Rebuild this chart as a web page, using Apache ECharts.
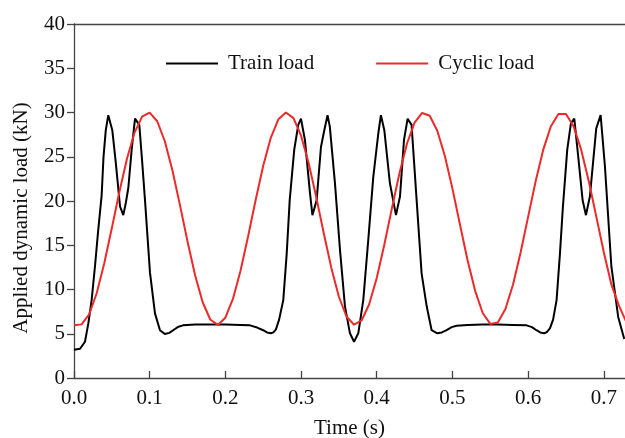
<!DOCTYPE html>
<html>
<head>
	<meta charset="utf-8">
	<title>Applied dynamic load</title>
	<style>
		body { margin: 0; background: #fff; }
		#chart { width: 625px; height: 438px; }
	</style>
</head>
<body>
	<div id="chart"></div>
<script src="https://cdn.jsdelivr.net/npm/echarts@6/dist/echarts.min.js"></script>
<script>
	// train load at the turning points
	var trainTime = [0, 0.008, 0.0145, 0.019, 0.0233, 0.0277, 0.032, 0.0365, 0.039, 0.042, 0.0453, 0.0506, 0.055, 0.0608, 0.0651, 0.0685, 0.0718, 0.0762, 0.0806, 0.0863, 0.090, 0.0938, 0.1004, 0.107, 0.1136, 0.120, 0.126, 0.131, 0.138, 0.144,
		0.16, 0.18, 0.20, 0.22, 0.2325, 0.242, 0.25, 0.255, 0.260, 0.2635, 0.2668, 0.271, 0.2765, 0.281, 0.285, 0.291, 0.2963, 0.2999, 0.3051, 0.3118, 0.315, 0.3206, 0.3263, 0.3307, 0.335, 0.338, 0.3448, 0.3514, 0.358, 0.3646,
		0.370, 0.3756, 0.3822, 0.3888, 0.3954, 0.402, 0.4055, 0.410, 0.4174, 0.4254, 0.4307, 0.436, 0.4408, 0.446, 0.4527, 0.4593, 0.466, 0.4725, 0.480, 0.486, 0.4923, 0.499, 0.5055, 0.52, 0.54, 0.56, 0.58, 0.598, 0.605, 0.611,
		0.616, 0.621, 0.625, 0.6288, 0.633, 0.6376, 0.642, 0.646, 0.6517, 0.6566, 0.661, 0.6662, 0.672, 0.6764, 0.6816, 0.690, 0.6958, 0.7015, 0.710, 0.719, 0.727];
	var trainLoad = [3.2, 3.3, 4.1, 6.2, 8.8, 12.6, 16.7, 20.6, 25.0, 28.0, 29.7, 28.0, 24.5, 19.4, 18.4, 19.8, 21.5, 25.8, 29.3, 28.6, 24.5, 20.1, 11.9, 7.3, 5.4, 4.97, 5.1, 5.4, 5.8, 5.95,
		6.05, 6.05, 6.05, 6.0, 5.95, 5.7, 5.4, 5.15, 5.05, 5.15, 5.5, 6.6, 8.8, 14.0, 20.1, 25.8, 28.6, 29.3, 26.9, 20.9, 18.4, 20.1, 26.1, 28.0, 29.7, 28.4, 22.0, 14.5, 8.1, 5.05,
		4.1, 5.05, 8.8, 15.6, 22.7, 27.6, 29.7, 28.0, 22.0, 18.4, 20.5, 26.9, 29.3, 28.6, 20.1, 11.8, 8.1, 5.4, 5.05, 5.15, 5.4, 5.75, 5.9, 6.0, 6.05, 6.05, 6.0, 5.95, 5.75, 5.4,
		5.15, 5.05, 5.2, 5.6, 6.6, 8.8, 14.0, 19.4, 25.8, 28.8, 29.3, 25.0, 20.1, 18.4, 20.5, 28.2, 29.7, 23.9, 12.6, 6.9, 4.4];

	// cyclic load, every 0.01 s
	var cyclicTime = [0, 0.01, 0.02, 0.03, 0.04, 0.05, 0.06, 0.07, 0.08, 0.09, 0.10, 0.11, 0.12, 0.13, 0.14, 0.15, 0.16, 0.17, 0.18, 0.19,
		0.20, 0.21, 0.22, 0.23, 0.24, 0.25, 0.26, 0.27, 0.28, 0.29, 0.30, 0.31, 0.32, 0.33, 0.34, 0.35, 0.36, 0.37, 0.38, 0.39,
		0.40, 0.41, 0.42, 0.43, 0.44, 0.45, 0.46, 0.47, 0.48, 0.49, 0.50, 0.51, 0.52, 0.53, 0.54, 0.55, 0.56, 0.57, 0.58, 0.59,
		0.60, 0.61, 0.62, 0.63, 0.64, 0.65, 0.66, 0.67, 0.68, 0.69, 0.70, 0.71, 0.72, 0.73];
	var cyclicLoad = [5.95, 6.06, 7.18, 9.58, 12.96, 16.94, 21.04, 24.78, 27.73, 29.53, 29.98, 29.01, 26.75, 23.47, 19.53, 15.42, 11.62, 8.56, 6.61, 6.0,
		6.81, 8.93, 12.11, 15.99, 20.11, 23.98, 27.14, 29.23, 30.0, 29.36, 27.38, 24.30, 20.47, 16.36, 12.44, 9.18, 6.95, 6.02, 6.50, 8.33,
		11.31, 15.06, 19.17, 23.13, 26.50, 28.86, 29.95, 29.63, 27.94, 25.09, 21.40, 17.31, 13.30, 9.85, 7.35, 6.11, 6.26, 7.80, 10.53, 14.15,
		18.21, 22.26, 25.80, 28.42, 29.82, 29.83, 28.44, 25.83, 22.30, 18.26, 14.20, 10.57, 8.18, 6.27];

	var seriesNames = ['Train load', 'Cyclic load'];

	function pairs(xs, ys) {
		var out = [];
		for (var i = 0; i < xs.length; i++) out.push([xs[i], ys[i]]);
		return out;
	}

	var font = '"Liberation Serif", "Times New Roman", serif';
	var axisColor = '#444';
	var textColor = '#111';

	var myChart = echarts.init(document.getElementById('chart'));
	var option = {
		animation: false,
		backgroundColor: '#fff',
		grid: { left: 74, right: 0, top: 24, bottom: 60, outerBoundsMode: 'none' },
		legend: {
			data: seriesNames,
			left: 166,
			top: 53,
			padding: 0,
			icon: 'rect',
			itemWidth: 52,
			itemHeight: 2,
			itemGap: 62,
			textStyle: { fontFamily: font, fontSize: 21, color: textColor, padding: [0, 0, 0, 5] }
		},
		xAxis: [
			{
				type: 'value',
				min: 0,
				max: 0.728,
				interval: 0.1,
				name: 'Time (s)',
				nameLocation: 'middle',
				nameGap: 40,
				nameTextStyle: { fontFamily: font, fontSize: 21, color: textColor },
				axisLine: { lineStyle: { color: axisColor, width: 1.3 } },
				axisTick: { inside: true, length: 7, lineStyle: { color: axisColor, width: 1.3 } },
				axisLabel: {
					fontFamily: font, fontSize: 21, color: textColor, margin: 10,
					showMaxLabel: false,
					formatter: function (v) { return v.toFixed(1); }
				},
				splitLine: { show: false }
			},
			{
				type: 'value',
				position: 'top',
				min: 0,
				max: 0.728,
				axisLine: { onZero: false, lineStyle: { color: axisColor, width: 1.3 } },
				axisTick: { show: false },
				axisLabel: { show: false },
				splitLine: { show: false }
			}
		],
		yAxis: {
			type: 'value',
			min: 0,
			max: 40,
			interval: 5,
			name: 'Applied dynamic load (kN)',
			nameLocation: 'middle',
			nameGap: 42,
			nameTextStyle: { fontFamily: font, fontSize: 21, color: textColor, padding: [0, 34, 0, 0] },
			axisLine: { show: true, lineStyle: { color: axisColor, width: 1.3 } },
			axisTick: { show: true, length: 7, lineStyle: { color: axisColor, width: 1.3 } },
			axisLabel: { fontFamily: font, fontSize: 21, color: textColor, margin: 9 },
			splitLine: { show: false }
		},
		series: [
			{
				name: seriesNames[0],
				type: 'line',
				data: pairs(trainTime, trainLoad),
				symbol: 'none',
				lineStyle: { color: '#000', width: 2 },
				itemStyle: { color: '#000' }
			},
			{
				name: seriesNames[1],
				type: 'line',
				data: pairs(cyclicTime, cyclicLoad),
				symbol: 'none',
				lineStyle: { color: '#ec2a2a', width: 2 },
				itemStyle: { color: '#ec2a2a' }
			}
		]
	};
	myChart.setOption(option);
</script>
</body>
</html>
